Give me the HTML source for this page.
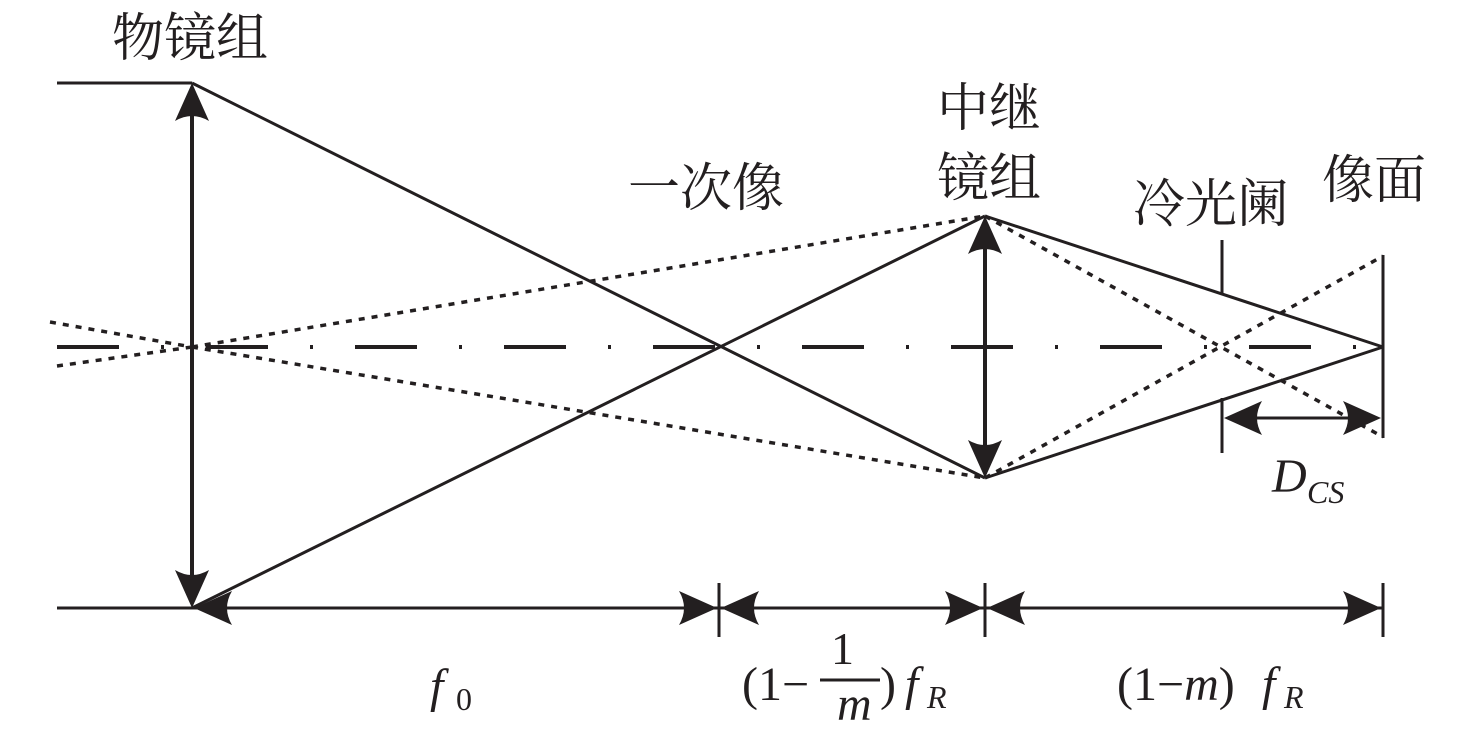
<!DOCTYPE html>
<html><head><meta charset="utf-8"><style>
html,body{margin:0;padding:0;background:#fff;}
svg{display:block;}
.cj{font-family:"Liberation Serif","Noto Serif CJK SC",serif;font-size:52px;fill:#231f20;}
.m{font-family:"Liberation Serif",serif;fill:#231f20;}
</style></head><body>
<svg width="1476" height="748" viewBox="0 0 1476 748" xmlns="http://www.w3.org/2000/svg">
<g stroke="#231f20" fill="none">
<line x1="57" y1="347" x2="1385" y2="347" stroke-width="4" stroke-dasharray="62 42 3 42"/>
<line x1="57" y1="83" x2="192" y2="83" stroke-width="3"/>
<line x1="57" y1="608" x2="192" y2="608" stroke-width="3"/>
<line x1="192" y1="90" x2="192" y2="600" stroke-width="4"/>
<line x1="985" y1="222" x2="985" y2="472" stroke-width="4"/>
<line x1="192" y1="83" x2="985" y2="478" stroke-width="3"/>
<line x1="192" y1="608" x2="985" y2="216" stroke-width="3"/>
<line x1="985" y1="216" x2="1383" y2="347" stroke-width="3"/>
<line x1="985" y1="478" x2="1383" y2="347" stroke-width="3"/>
<g stroke-width="3.5" stroke-dasharray="6 7">
<line x1="50" y1="322" x2="192" y2="347"/>
<line x1="57" y1="366" x2="192" y2="347"/>
<line x1="192" y1="347" x2="985" y2="216"/>
<line x1="192" y1="347" x2="985" y2="478"/>
<line x1="985" y1="216" x2="1383" y2="437"/>
<line x1="985" y1="478" x2="1383" y2="256"/>
</g>
<line x1="1222" y1="240" x2="1222" y2="293" stroke-width="3"/>
<line x1="1222" y1="398" x2="1222" y2="453" stroke-width="3"/>
<line x1="1383" y1="255" x2="1383" y2="438" stroke-width="3"/>
<line x1="1230" y1="418" x2="1375" y2="418" stroke-width="3"/>
<line x1="719" y1="583" x2="719" y2="637" stroke-width="3"/>
<line x1="985" y1="583" x2="985" y2="637" stroke-width="3"/>
<line x1="1383" y1="583" x2="1383" y2="637" stroke-width="3"/>
<line x1="192" y1="608" x2="1383" y2="608" stroke-width="3"/>
</g>
<g fill="#231f20">
<path d="M192,83 L175,121 Q192,111 209,121 Z"/>
<path d="M192,608 L175,570 Q192,580 209,570 Z"/>
<path d="M985,216 L968,254 Q985,244 1002,254 Z"/>
<path d="M985,478 L968,440 Q985,450 1002,440 Z"/>
<path d="M194,608 L232,591 Q222,608 232,625 Z"/>
<path d="M721,608 L759,591 Q749,608 759,625 Z"/>
<path d="M987,608 L1025,591 Q1015,608 1025,625 Z"/>
<path d="M717,608 L679,591 Q689,608 679,625 Z"/>
<path d="M983,608 L945,591 Q955,608 945,625 Z"/>
<path d="M1381,608 L1343,591 Q1353,608 1343,625 Z"/>
<path d="M1224,418 L1262,401 Q1252,418 1262,435 Z"/>
<path d="M1381,418 L1343,401 Q1353,418 1343,435 Z"/>
</g>
<text class="cj" x="112" y="56">物镜组</text>
<text class="cj" x="937" y="126">中继</text>
<text class="cj" x="937" y="196">镜组</text>
<text class="cj" x="628" y="206">一次像</text>
<text class="cj" x="1133" y="222">冷光阑</text>
<text class="cj" x="1322" y="198">像面</text>
<text class="m" x="430" y="702" font-size="48" font-style="italic">f</text>
<text class="m" x="456" y="710" font-size="32">0</text>
<text class="m" x="742" y="700" font-size="48">(1−</text>
<text class="m" x="831" y="664" font-size="46">1</text>
<line x1="820" y1="680" x2="880" y2="680" stroke="#231f20" stroke-width="3"/>
<text class="m" x="837" y="720" font-size="48" font-style="italic">m</text>
<text class="m" x="880" y="700" font-size="48">)</text>
<text class="m" x="905" y="700" font-size="48" font-style="italic">f</text>
<text class="m" x="927" y="708" font-size="32" font-style="italic">R</text>
<text class="m" x="1117" y="700" font-size="48">(1−<tspan font-style="italic">m</tspan>)</text>
<text class="m" x="1262" y="700" font-size="48" font-style="italic">f</text>
<text class="m" x="1284" y="708" font-size="32" font-style="italic">R</text>
<text class="m" x="1272" y="492" font-size="48" font-style="italic">D</text>
<text class="m" x="1307" y="503" font-size="32" font-style="italic">CS</text>
</svg>
</body></html>
